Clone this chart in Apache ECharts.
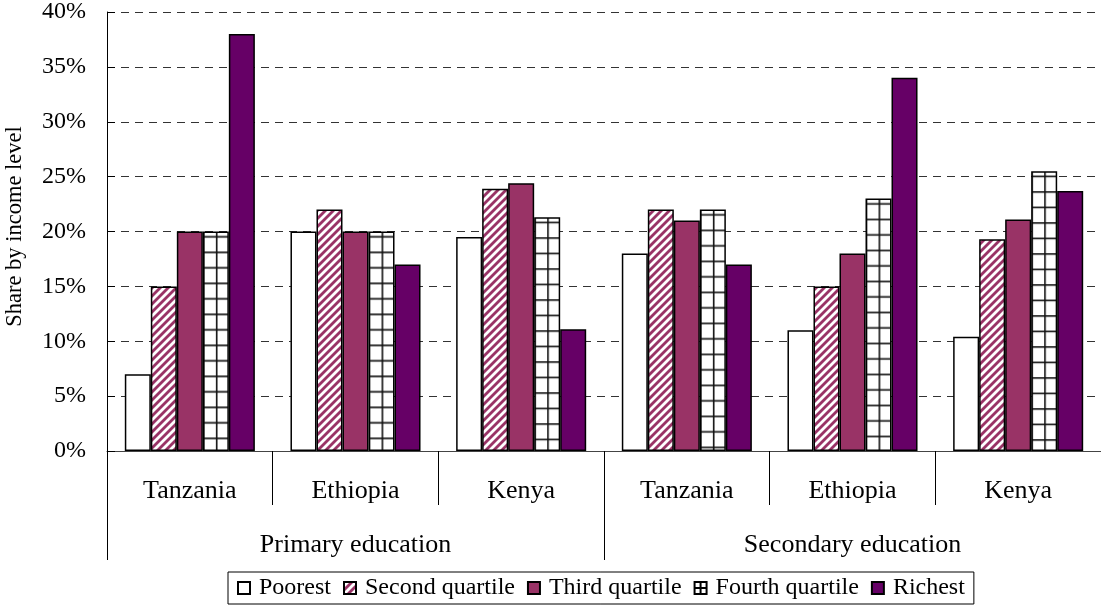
<!DOCTYPE html>
<html>
<head>
<meta charset="utf-8">
<script src="https://cdn.jsdelivr.net/npm/echarts@6/dist/echarts.min.js"></script>
<style>
  html, body { margin: 0; padding: 0; background: #fff; }
  #chart { width: 1101px; height: 613px; }
</style>
</head>
<body>
<div id="chart"></div>
<script>
// Category labels along the bottom (two levels)
const countries = ['Tanzania', 'Ethiopia', 'Kenya', 'Tanzania', 'Ethiopia', 'Kenya'];
const levels = ['Primary education', 'Secondary education'];

// Share (%) of each income group, per country and education level
const poorest        = [7.0, 20.0, 19.5, 18.0, 11.0, 10.4];
const secondQuartile = [15.0, 22.0, 23.9, 22.0, 15.0, 19.3];
const thirdQuartile  = [20.0, 20.0, 24.4, 21.0, 18.0, 21.1];
const fourthQuartile = [20.0, 20.0, 21.3, 22.0, 23.0, 25.5];
const richest        = [38.0, 17.0, 11.1, 17.0, 34.0, 23.7];

const seriesNames = ['Poorest', 'Second quartile', 'Third quartile', 'Fourth quartile', 'Richest'];

// Fill patterns
function hatchPattern() {
  const c = document.createElement('canvas');
  c.width = 8; c.height = 8;
  const g = c.getContext('2d');
  g.fillStyle = '#fff';
  g.fillRect(0, 0, 8, 8);
  g.strokeStyle = '#993366';
  g.lineWidth = 2.8;
  [0, 8, 16].forEach(k => {
    g.beginPath();
    g.moveTo(k - 10, 10);
    g.lineTo(k + 10, -10);
    g.stroke();
  });
  return { image: c, repeat: 'repeat' };
}
const gridTile = (function () {
  const c = document.createElement('canvas');
  c.width = 13; c.height = 31;
  const g = c.getContext('2d');
  g.fillStyle = '#fff';
  g.fillRect(0, 0, 13, 31);
  g.fillStyle = '#111';
  g.fillRect(0, 0, 1.6, 31);
  g.fillRect(0, 0, 13, 1.6);
  g.fillRect(0, 15.5, 13, 1.6);
  return c;
})();
function gridPattern(x, y) {
  return { image: gridTile, repeat: 'repeat', x: x || 0, y: y || 0 };
}

const fills = ['#ffffff', hatchPattern(), '#993366', gridPattern(), '#660066'];
const values = [poorest, secondQuartile, thirdQuartile, fourthQuartile, richest];

const font = '"Liberation Serif", "Times New Roman", serif';

// Legend entries; the grid swatch is drawn as a boxed cross
const legendItems = seriesNames.map(name => name === 'Fourth quartile'
  ? { name: name, icon: 'path://M0,0H12V12H0Z M6,0V12 M0,6H12', itemStyle: { color: '#fff' } }
  : { name: name });

const chart = echarts.init(document.getElementById('chart'), null, { renderer: 'canvas' });

chart.setOption({
  animation: false,
  backgroundColor: '#fff',
  textStyle: { fontFamily: font },
  grid: { left: 107, right: 0, top: 12, bottom: 162, containLabel: false, outerBoundsMode: 'none' },
  legend: {
    bottom: 9,
    left: 228,
    data: legendItems,
    icon: 'rect',
    itemWidth: 12,
    itemHeight: 12,
    itemGap: 12,
    padding: [4, 9, 4, 9],
    borderColor: '#000',
    borderWidth: 1,
    borderRadius: 0,
    textStyle: { fontFamily: font, fontSize: 24, color: '#000', padding: [0, 0, 0, 4] }
  },
  xAxis: [
    {
      type: 'category',
      data: countries,
      position: 'bottom',
      axisLine: { show: true, lineStyle: { color: '#444', width: 1 } },
      axisTick: { show: true, length: 54, interval: 0, lineStyle: { color: '#000' } },
      axisLabel: { margin: 27, fontSize: 26, color: '#000', fontFamily: font, interval: 0 },
      splitLine: { show: false }
    },
    {
      type: 'category',
      data: levels,
      position: 'bottom',
      axisLine: { show: false },
      axisTick: { show: true, length: 109, interval: 0, lineStyle: { color: '#000' } },
      axisLabel: { margin: 81, fontSize: 26, color: '#000', fontFamily: font, interval: 0 },
      splitLine: { show: false }
    }
  ],
  yAxis: {
    type: 'value',
    min: 0,
    max: 40,
    interval: 5,
    name: 'Share by income level',
    nameLocation: 'middle',
    nameGap: 80,
    nameTextStyle: { fontFamily: font, fontSize: 22.5, color: '#000', padding: [0, 0, 0, 10] },
    axisLine: { show: true, lineStyle: { color: '#000', width: 1 } },
    axisTick: { show: true, inside: true, length: 8, lineStyle: { color: '#000' } },
    axisLabel: { formatter: '{value}%', fontSize: 24, color: '#000', fontFamily: font, margin: 21 },
    splitLine: { show: true, lineStyle: { color: '#333', type: [8, 6], width: 1 } }
  },
  series: seriesNames.map((name, i) => ({
    name: name,
    type: 'bar',
    xAxisIndex: 0,
    data: values[i],
    barGap: '0%',
    barCategoryGap: '21.5%',
    itemStyle: { color: fills[i], borderColor: '#000', borderWidth: 1.5 }
  }))
});

// Anchor the grid fill of each "Fourth quartile" bar to that bar's own corner
const fourthIdx = seriesNames.indexOf('Fourth quartile');
const fourthData = chart.getModel().getSeriesByIndex(fourthIdx).getData();
const anchoredData = fourthQuartile.map((v, i) => {
  const lay = fourthData.getItemLayout(i);
  const top = Math.min(lay.y, lay.y + lay.height);
  return { value: v, itemStyle: { color: gridPattern(lay.x, top + 20) } };
});
const seriesUpdate = seriesNames.map(() => ({}));
seriesUpdate[fourthIdx] = { data: anchoredData };
chart.setOption({ series: seriesUpdate });
</script>
</body>
</html>
